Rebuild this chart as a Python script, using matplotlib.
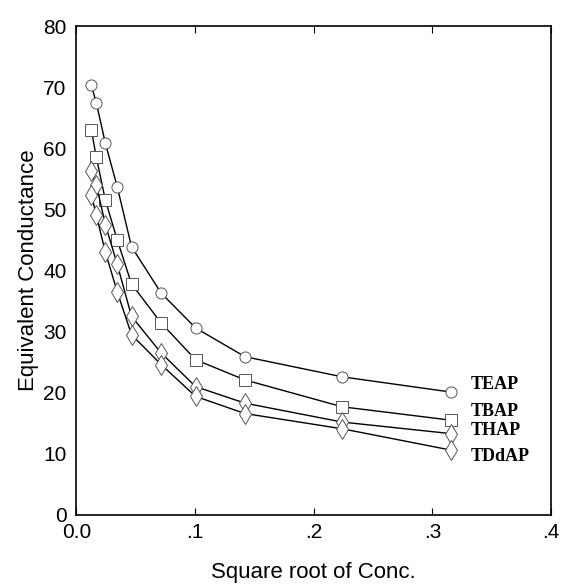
import matplotlib.pyplot as plt
from matplotlib.ticker import FixedLocator, FixedFormatter

# square root of concentration (shared by all four salts)
sqrt_conc = [0.0127, 0.0169, 0.0245, 0.0345, 0.0465, 0.0715, 0.1005, 0.1420, 0.2240, 0.3160]

teap = [70.3, 67.4, 60.8, 53.7, 43.9, 36.3, 30.6, 25.9, 22.6, 20.1]
tbap = [63.0, 58.5, 51.5, 45.0, 37.8, 31.4, 25.4, 22.1, 17.7, 15.5]
thap = [56.2, 54.0, 47.5, 41.0, 32.5, 26.5, 21.0, 18.3, 15.2, 13.3]
tddap = [52.4, 49.0, 43.0, 36.5, 29.5, 24.6, 19.4, 16.6, 14.1, 10.6]

series = [("TEAP", teap, "o"), ("TBAP", tbap, "s"), ("THAP", thap, "d"), ("TDdAP", tddap, "d")]
label_y = [21.3, 16.9, 13.9, 9.5]

xticks = [0.0, 0.1, 0.2, 0.3, 0.4]
xtick_labels = ["0.0", ".1", ".2", ".3", ".4"]
yticks = [0, 10, 20, 30, 40, 50, 60, 70, 80]

plt.rcParams['font.family'] = ['Liberation Sans', 'DejaVu Sans']

fig = plt.figure(figsize=(5.66, 5.87), dpi=100)
ax = fig.add_axes([0.1348, 0.1227, 0.839, 0.833])

for (name, vals, mk), ly in zip(series, label_y):
    ms = 8 if mk != "d" else 10
    ax.plot(sqrt_conc, vals, color="black", lw=1.0, marker=mk, ms=ms,
            mfc="white", mec="#555555", mew=0.7)
    ax.text(0.332, ly, name, fontsize=13, fontweight="bold",
            family=["Liberation Serif", "DejaVu Serif"], va="center", ha="left")

ax.set_xlim(0, 0.4)
ax.set_ylim(0, 80)
ax.xaxis.set_major_locator(FixedLocator(xticks))
ax.xaxis.set_major_formatter(FixedFormatter(xtick_labels))
ax.set_yticks(yticks)
ax.tick_params(axis="x", direction="in", length=5, width=0.8, top=True, labelsize=15, pad=6)
ax.tick_params(axis="y", length=0, labelsize=15, pad=7)
for s in ax.spines.values():
    s.set_linewidth(1.2)

ax.set_xlabel("Square root of Conc.", fontsize=16, labelpad=14)
ax.set_ylabel("Equivalent Conductance", fontsize=16, labelpad=3)

fig.savefig("out.png", dpi=100)
